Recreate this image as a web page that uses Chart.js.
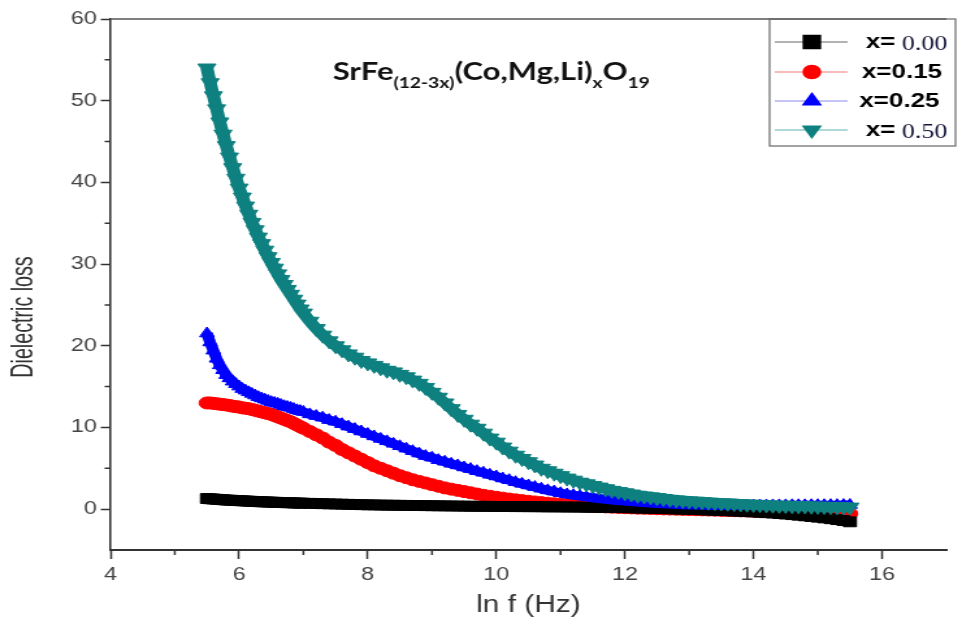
<!DOCTYPE html>
<html>
<head>
<meta charset="utf-8">
<script src="https://cdn.jsdelivr.net/npm/chart.js@4.4.1/dist/chart.umd.min.js"></script>
<style>
  html, body { margin: 0; padding: 0; background: #fff; overflow: hidden; }
  /* the source figure is stretched sideways, so draw narrow and stretch */
  #box { width: 737px; height: 628px; transform: scaleX(1.3); transform-origin: 0 0; }
</style>
</head>
<body>
<div id="box"><canvas id="lossChart"></canvas></div>
<script>
// ln f (Hz) sample positions
const lnF = [
  5.5, 5.55, 5.6, 5.65, 5.7, 5.75, 5.8, 5.85, 5.9, 5.95,
  6.0, 6.05, 6.1, 6.15, 6.2, 6.25, 6.3, 6.35, 6.4, 6.45,
  6.5, 6.55, 6.6, 6.65, 6.7, 6.75, 6.8, 6.85, 6.9, 6.95,
  7.0, 7.1, 7.2, 7.3, 7.4, 7.5, 7.6, 7.7, 7.8, 7.9,
  8.0, 8.1, 8.2, 8.3, 8.4, 8.5, 8.6, 8.7, 8.8, 8.9,
  9.0, 9.1, 9.2, 9.3, 9.4, 9.5, 9.6, 9.7, 9.8, 9.9,
  10.0, 10.1, 10.2, 10.3, 10.4, 10.5, 10.6, 10.7, 10.8, 10.9,
  11.0, 11.1, 11.2, 11.3, 11.4, 11.5, 11.6, 11.7, 11.8, 11.9,
  12.0, 12.1, 12.2, 12.3, 12.4, 12.5, 12.6, 12.7, 12.8, 12.9,
  13.0, 13.1, 13.2, 13.3, 13.4, 13.5, 13.6, 13.7, 13.8, 13.9,
  14.0, 14.1, 14.2, 14.3, 14.4, 14.5, 14.6, 14.7, 14.8, 14.9,
  15.0, 15.1, 15.2, 15.3, 15.4, 15.5
];

// dielectric loss, x = 0.00
const loss000 = [
  1.3, 1.27, 1.24, 1.21, 1.18, 1.15, 1.12, 1.1, 1.08, 1.06,
  1.04, 1.02, 1.0, 0.98, 0.96, 0.94, 0.92, 0.9, 0.89, 0.87,
  0.86, 0.84, 0.83, 0.81, 0.8, 0.79, 0.78, 0.76, 0.75, 0.74,
  0.73, 0.71, 0.69, 0.67, 0.65, 0.63, 0.61, 0.59, 0.57, 0.55,
  0.53, 0.52, 0.5, 0.49, 0.48, 0.47, 0.46, 0.45, 0.44, 0.43,
  0.42, 0.41, 0.4, 0.39, 0.38, 0.37, 0.36, 0.35, 0.35, 0.34,
  0.33, 0.33, 0.32, 0.31, 0.31, 0.3, 0.3, 0.29, 0.28, 0.28,
  0.27, 0.26, 0.26, 0.25, 0.24, 0.23, 0.22, 0.21, 0.2, 0.19,
  0.18, 0.16, 0.14, 0.12, 0.1, 0.08, 0.06, 0.04, 0.02, 0.0,
  -0.02, -0.05, -0.08, -0.11, -0.14, -0.17, -0.2, -0.23, -0.26, -0.3,
  -0.34, -0.38, -0.43, -0.48, -0.54, -0.6, -0.67, -0.74, -0.82, -0.9,
  -0.98, -1.07, -1.17, -1.28, -1.4, -1.55
];

// x = 0.15
const loss015 = [
  13.0, 13.0, 12.95, 12.9, 12.85, 12.8, 12.75, 12.7, 12.6, 12.55,
  12.5, 12.4, 12.35, 12.3, 12.2, 12.1, 12.0, 11.9, 11.8, 11.7,
  11.6, 11.45, 11.3, 11.15, 11.0, 10.85, 10.7, 10.5, 10.3, 10.1,
  9.9, 9.5, 9.1, 8.7, 8.2, 7.8, 7.3, 6.9, 6.5, 6.1,
  5.7, 5.3, 5.0, 4.7, 4.4, 4.1, 3.85, 3.6, 3.4, 3.2,
  3.0, 2.8, 2.6, 2.45, 2.3, 2.15, 2.0, 1.85, 1.7, 1.58,
  1.46, 1.35, 1.24, 1.14, 1.05, 0.96, 0.88, 0.8, 0.73, 0.66,
  0.6, 0.54, 0.49, 0.44, 0.39, 0.35, 0.31, 0.27, 0.24, 0.21,
  0.18, 0.15, 0.12, 0.1, 0.07, 0.05, 0.03, 0.01, -0.01, -0.03,
  -0.05, -0.07, -0.09, -0.11, -0.13, -0.15, -0.17, -0.19, -0.21, -0.23,
  -0.25, -0.27, -0.29, -0.31, -0.33, -0.35, -0.37, -0.39, -0.41, -0.43,
  -0.45, -0.47, -0.49, -0.51, -0.53, -0.55
];

// x = 0.25
const loss025 = [
  21.5, 20.4, 19.4, 18.4, 17.6, 17.0, 16.4, 16.0, 15.6, 15.3,
  15.0, 14.7, 14.5, 14.3, 14.1, 13.9, 13.7, 13.55, 13.4, 13.25,
  13.1, 13.0, 12.9, 12.75, 12.6, 12.5, 12.4, 12.25, 12.1, 12.0,
  11.9, 11.6, 11.4, 11.2, 10.9, 10.7, 10.4, 10.1, 9.8, 9.5,
  9.2, 8.9, 8.6, 8.3, 8.0, 7.7, 7.4, 7.1, 6.8, 6.5,
  6.3, 6.0, 5.8, 5.55, 5.35, 5.1, 4.9, 4.65, 4.45, 4.2,
  4.0, 3.75, 3.55, 3.3, 3.1, 2.9, 2.7, 2.5, 2.3, 2.15,
  1.95, 1.8, 1.7, 1.6, 1.5, 1.4, 1.3, 1.2, 1.12, 1.05,
  0.98, 0.92, 0.86, 0.8, 0.75, 0.7, 0.66, 0.62, 0.58, 0.55,
  0.52, 0.5, 0.48, 0.46, 0.45, 0.44, 0.44, 0.44, 0.44, 0.44,
  0.45, 0.45, 0.45, 0.46, 0.46, 0.46, 0.47, 0.47, 0.47, 0.48,
  0.48, 0.48, 0.49, 0.49, 0.5, 0.5
];

// x = 0.50
const loss050 = [
  54.0, 52.2, 50.6, 49.0, 47.4, 45.9, 44.5, 43.1, 41.8, 40.5,
  39.3, 38.2, 37.1, 36.1, 35.1, 34.2, 33.3, 32.5, 31.7, 30.9,
  30.2, 29.5, 28.8, 28.1, 27.5, 26.9, 26.3, 25.7, 25.1, 24.5,
  24.0, 23.0, 22.1, 21.3, 20.6, 20.0, 19.5, 19.0, 18.6, 18.2,
  17.9, 17.6, 17.3, 17.0, 16.8, 16.5, 16.2, 15.8, 15.4, 14.9,
  14.3, 13.7, 13.0, 12.3, 11.6, 11.0, 10.4, 9.9, 9.3, 8.7,
  8.2, 7.6, 7.1, 6.6, 6.2, 5.8, 5.4, 5.0, 4.7, 4.4,
  4.1, 3.8, 3.55, 3.3, 3.1, 2.9, 2.7, 2.5, 2.3, 2.15,
  2.0, 1.85, 1.7, 1.6, 1.5, 1.4, 1.3, 1.2, 1.12, 1.05,
  1.0, 0.95, 0.9, 0.85, 0.8, 0.76, 0.72, 0.68, 0.64, 0.6,
  0.57, 0.54, 0.51, 0.48, 0.46, 0.44, 0.42, 0.4, 0.38, 0.36,
  0.34, 0.32, 0.3, 0.28, 0.26, 0.25
];

const compositions = ['0.00', '0.15', '0.25', '0.50'];
const titleParts = [['SrFe', 0], ['(12-3x)', 1], ['(Co,Mg,Li)', 0], ['x', 1], ['O', 0], ['19', 1]];

const SANS = "'Liberation Sans', Arial, sans-serif";
const toPoints = arr => lnF.map((x, i) => ({x: x, y: arr[i]}));
const majorX = v => v % 2 === 0;
const majorY = v => v % 10 === 0 && v >= 0;

const legendLines = ['#9a9a9a', '#f4a6a6', '#b2b2f0', '#93cccc'];
const legendSizes = [9, 6.5, 7.5, 7.5];
const legendRows = [42, 72, 101, 130];

function drawTitle(ctx) {
  let size = 26;
  const fontFor = (sub) => `bold ${sub ? size * 0.62 : size}px Lato, 'Open Sans', sans-serif`;
  const widthAll = () => titleParts.reduce((w, p) => {
    ctx.font = fontFor(p[1]);
    return w + ctx.measureText(p[0]).width;
  }, 0);
  size = size * 244 / widthAll();
  let x = 256;
  ctx.fillStyle = '#111';
  ctx.textBaseline = 'alphabetic';
  ctx.textAlign = 'left';
  titleParts.forEach(p => {
    ctx.font = fontFor(p[1]);
    ctx.fillText(p[0], x, p[1] ? 88 : 80);
    x += ctx.measureText(p[0]).width;
  });
}

function drawLegend(chart) {
  const ctx = chart.ctx;
  const top = chart.chartArea.top;
  ctx.strokeStyle = '#666';
  ctx.lineWidth = 1.2;
  ctx.strokeRect(592, top, 143, 146 - top);
  chart.data.datasets.forEach((ds, i) => {
    const yy = legendRows[i];
    ctx.strokeStyle = legendLines[i];
    ctx.lineWidth = 1.6;
    ctx.beginPath();
    ctx.moveTo(596, yy);
    ctx.lineTo(652, yy);
    ctx.stroke();
    ctx.fillStyle = ds.backgroundColor;
    ctx.strokeStyle = ds.pointBorderColor;
    Chart.helpers.drawPoint(ctx, {
      pointStyle: ds.pointStyle, radius: legendSizes[i], rotation: ds.rotation || 0, borderWidth: 1
    }, 624.5, yy);

    ctx.textBaseline = 'middle';
    ctx.textAlign = 'left';
    ctx.fillStyle = '#000';
    ctx.font = `bold 20px ${SANS}`;
    const c = compositions[i];
    if (c === '0.00' || c === '0.50') {
      // these two were typed with "x=" in bold and the number in a serif face
      ctx.fillText('x=', 666, yy);
      const w = ctx.measureText('x=').width;
      ctx.font = "20px 'Liberation Serif', 'Times New Roman', serif";
      ctx.fillStyle = '#15153a';
      ctx.fillText(c, 666 + w + 5, yy + 3);
    } else {
      ctx.fillText('x=' + c, i === 1 ? 663 : 661, yy);
    }
  });
}

const extras = {
  id: 'extras',
  afterDraw(chart) {
    const {ctx, chartArea: a, scales: {x, y}} = chart;
    ctx.save();
    // top frame line
    ctx.strokeStyle = '#555';
    ctx.lineWidth = 1.5;
    ctx.beginPath();
    ctx.moveTo(a.left, a.top);
    ctx.lineTo(a.right, a.top);
    ctx.stroke();
    // minor ticks
    ctx.strokeStyle = '#333';
    ctx.lineWidth = 1.5;
    ctx.beginPath();
    x.ticks.forEach(t => {
      if (!majorX(t.value) && t.value < 17) {
        const px = x.getPixelForValue(t.value);
        ctx.moveTo(px, a.bottom);
        ctx.lineTo(px, a.bottom + 5);
      }
    });
    y.ticks.forEach(t => {
      if (!majorY(t.value) && t.value > -5) {
        const py = y.getPixelForValue(t.value);
        ctx.moveTo(a.left - 4.5, py);
        ctx.lineTo(a.left, py);
      }
    });
    ctx.stroke();
    // y axis title, a condensed face in the original
    ctx.save();
    ctx.translate(18, 317);
    ctx.rotate(-Math.PI / 2);
    ctx.scale(0.82, 1);
    ctx.font = `24px ${SANS}`;
    ctx.fillStyle = '#333';
    ctx.textAlign = 'center';
    ctx.textBaseline = 'middle';
    ctx.fillText('Dielectric loss', 0, 0);
    ctx.restore();

    drawTitle(ctx);
    drawLegend(chart);
    ctx.restore();
  }
};

const series = [
  {data: loss000, style: 'rect', radius: 7, band: 8, color: '#000000', order: 2},
  {data: loss015, style: 'circle', radius: 6, band: 10, color: '#ff0000', order: 3},
  {data: loss025, style: 'triangle', radius: 6.5, band: 9, color: '#0000ff', order: 1},
  {data: loss050, style: 'triangle', radius: 8, band: 10, color: '#0f8080', order: 0, rotation: 180}
];

new Chart(document.getElementById('lossChart'), {
  type: 'scatter',
  data: {
    datasets: series.map((s, i) => ({
      label: 'x=' + compositions[i],
      data: toPoints(s.data),
      showLine: true,
      borderWidth: s.band,
      borderColor: s.color,
      backgroundColor: s.color,
      pointBorderColor: s.color,
      pointBackgroundColor: s.color,
      pointBorderWidth: 1,
      pointStyle: s.style,
      pointRadius: s.radius,
      rotation: s.rotation || 0,
      tension: 0,
      order: s.order
    }))
  },
  options: {
    responsive: true,
    maintainAspectRatio: false,
    animation: false,
    devicePixelRatio: 1,
    layout: {padding: {top: 19, right: 0, left: 0, bottom: 0}},
    plugins: {
      legend: {display: false},
      tooltip: {enabled: false}
    },
    elements: {point: {hoverRadius: 0}},
    scales: {
      x: {
        type: 'linear',
        min: 4,
        max: 17,
        afterFit: scale => { scale.height = 78; },
        border: {color: '#333', width: 2},
        grid: {
          drawOnChartArea: false,
          tickLength: 9,
          tickWidth: 1.5,
          tickColor: ctx => (ctx.tick && majorX(ctx.tick.value) && ctx.tick.value < 17) ? '#333' : 'rgba(0,0,0,0)'
        },
        ticks: {
          stepSize: 1,
          autoSkip: false,
          maxRotation: 0,
          padding: 5,
          color: '#444',
          font: {family: SANS, size: 18},
          callback: v => (majorX(v) && v < 17) ? v : ''
        },
        title: {
          display: true,
          text: 'ln f (Hz)',
          color: '#333',
          font: {family: SANS, size: 23},
          padding: {top: 0, bottom: 9}
        }
      },
      y: {
        min: -5,
        max: 60,
        afterFit: scale => { scale.width = 85; },
        border: {color: '#333', width: 1.6},
        grid: {
          drawOnChartArea: false,
          tickLength: 7.5,
          tickWidth: 1.5,
          tickColor: ctx => (ctx.tick && majorY(ctx.tick.value)) ? '#333' : 'rgba(0,0,0,0)'
        },
        ticks: {
          stepSize: 5,
          autoSkip: false,
          padding: 3,
          color: '#444',
          font: {family: SANS, size: 18},
          callback: v => majorY(v) ? v : ''
        }
      }
    }
  },
  plugins: [extras]
});
</script>
</body>
</html>
